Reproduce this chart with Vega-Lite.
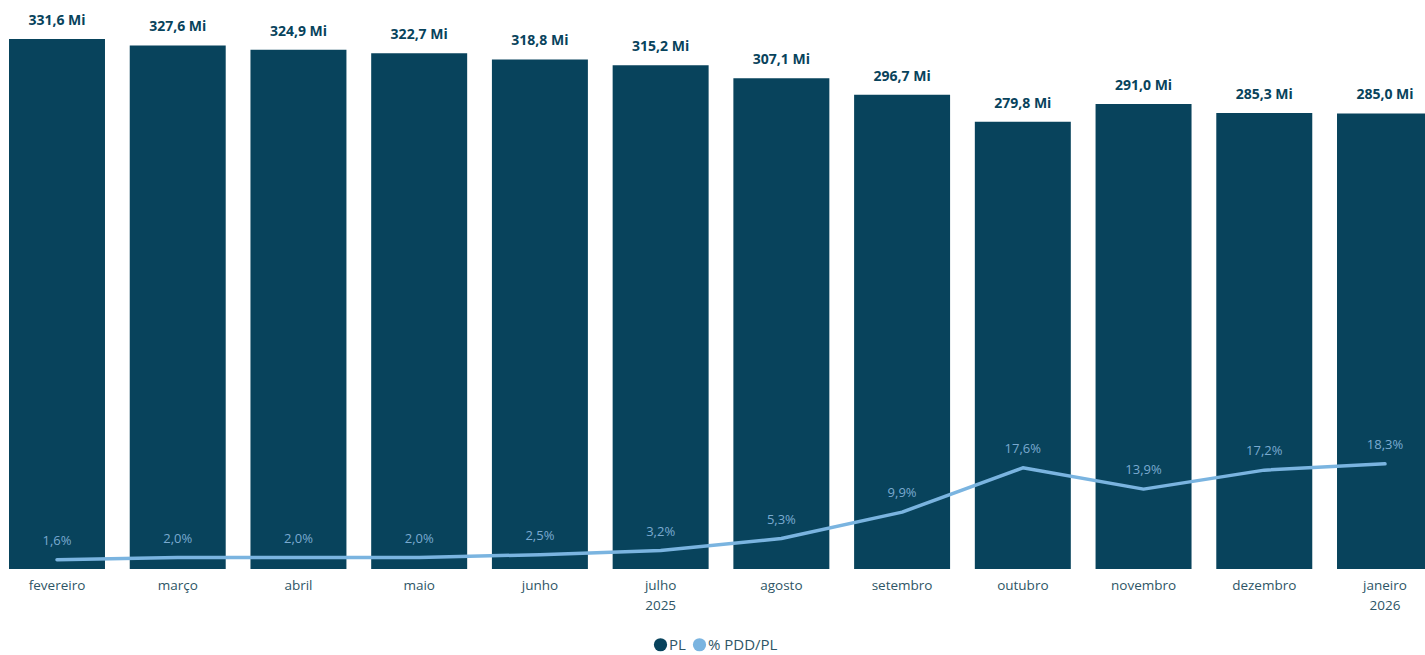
{
  "$schema": "https://vega.github.io/schema/vega-lite/v6.json",
  "autosize": "none",
  "padding": {"left": 0, "top": 0, "right": 0, "bottom": 86},
  "width": 1442,
  "height": 569,
  "background": "white",
  "config": {
    "view": {"stroke": null},
    "font": "Open Sans",
    "locale": {"number": {"decimal": ",", "thousands": ".", "grouping": [3], "currency": ["R$", ""]}}
  },
  "data": {
    "values": [
      {"mes": "fevereiro", "pl": 331.6, "pdd": 0.016},
      {"mes": "março", "pl": 327.6, "pdd": 0.020},
      {"mes": "abril", "pl": 324.9, "pdd": 0.020},
      {"mes": "maio", "pl": 322.7, "pdd": 0.020},
      {"mes": "junho", "pl": 318.8, "pdd": 0.025},
      {"mes": "julho", "pl": 315.2, "pdd": 0.032},
      {"mes": "agosto", "pl": 307.1, "pdd": 0.053},
      {"mes": "setembro", "pl": 296.7, "pdd": 0.099},
      {"mes": "outubro", "pl": 279.8, "pdd": 0.176},
      {"mes": "novembro", "pl": 291.0, "pdd": 0.139},
      {"mes": "dezembro", "pl": 285.3, "pdd": 0.172},
      {"mes": "janeiro", "pl": 285.0, "pdd": 0.183}
    ]
  },
  "encoding": {
    "x": {
      "field": "mes",
      "type": "nominal",
      "sort": null,
      "scale": {"paddingInner": 0.205, "paddingOuter": 0.0746},
      "axis": {
        "title": null,
        "domain": false,
        "ticks": false,
        "labelAngle": 0,
        "labelFontSize": 13.5,
        "labelColor": "#2E5566",
        "labelPadding": 9,
        "labelLineHeight": 20,
        "labelExpr": "datum.value == 'julho' ? ['julho', '2025'] : datum.value == 'janeiro' ? ['janeiro', '2026'] : datum.value"
      }
    }
  },
  "layer": [
    {
      "mark": {"type": "bar", "color": "#08435C"},
      "encoding": {
        "y": {"field": "pl", "type": "quantitative", "scale": {"domain": [0, 356]}, "axis": null},
        "color": {
          "datum": "PL",
          "type": "nominal",
          "scale": {"domain": ["PL", "% PDD/PL"], "range": ["#08435C", "#7AB4E0"]},
          "legend": {
            "title": null,
            "orient": "none",
            "legendX": 653,
            "legendY": 637,
            "direction": "horizontal",
            "symbolType": "circle",
            "symbolSize": 175,
            "symbolOpacity": 1,
            "symbolStrokeWidth": 0,
            "labelFontSize": 15,
            "labelColor": "#2E5566",
            "labelOffset": 1,
            "columnPadding": 6
          }
        }
      }
    },
    {
      "mark": {"type": "text", "baseline": "bottom", "dy": -11, "fontSize": 14, "fontWeight": "bold", "color": "#08435C", "text": {"expr": "format(datum.pl, '.1f') + ' Mi'"}},
      "encoding": {
        "y": {"field": "pl", "type": "quantitative", "scale": {"domain": [0, 356]}, "axis": null}
      }
    },
    {
      "mark": {"type": "line", "strokeWidth": 3.5, "interpolate": "linear", "strokeCap": "round", "strokeJoin": "round"},
      "encoding": {
        "y": {"field": "pdd", "type": "quantitative", "scale": {"domain": [0, 0.99]}, "axis": null},
        "color": {"datum": "% PDD/PL", "type": "nominal"}
      }
    },
    {
      "mark": {"type": "text", "baseline": "bottom", "dy": -12, "fontSize": 13, "color": "#7AAAD0"},
      "encoding": {
        "y": {"field": "pdd", "type": "quantitative", "scale": {"domain": [0, 0.99]}, "axis": null},
        "text": {"field": "pdd", "type": "quantitative", "format": ".1%"}
      }
    }
  ],
  "resolve": {"scale": {"y": "independent"}}
}
